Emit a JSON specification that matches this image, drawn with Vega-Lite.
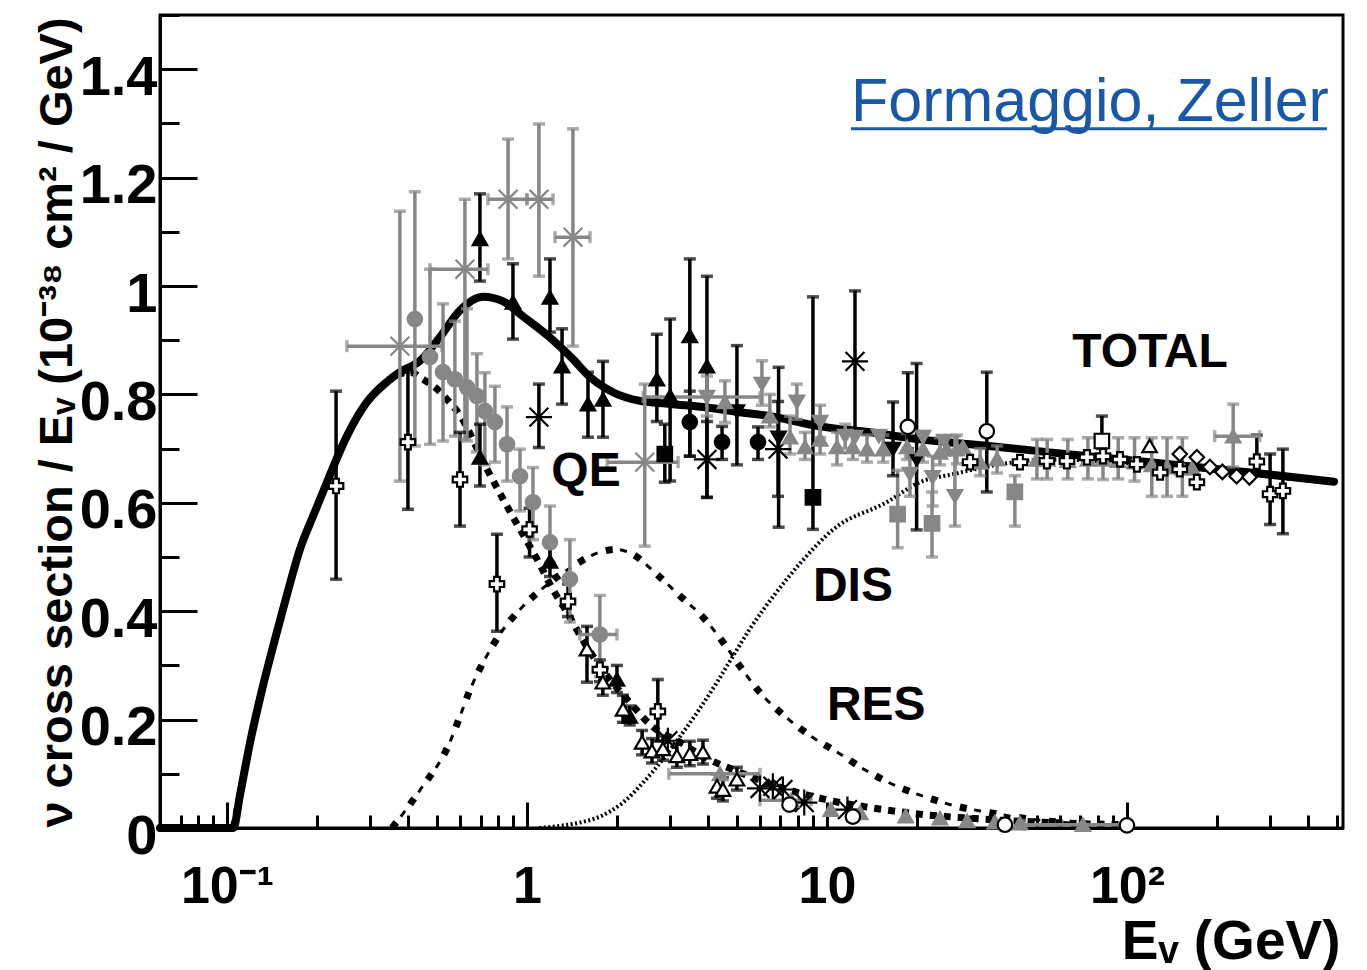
{
  "$schema": "https://vega.github.io/schema/vega-lite/v6.json",
  "width": 1183,
  "height": 813,
  "autosize": {"type": "none"},
  "padding": {"left": 160, "top": 15, "right": 24, "bottom": 142},
  "background": "white",
  "config": {
    "font": "Liberation Sans",
    "view": {"stroke": "black", "strokeWidth": 3},
    "axis": {"grid": false}
  },
  "datasets": {
    "curves": [
      {"c": "TOTAL", "E": 0.0598, "v": 0},
      {"c": "TOTAL", "E": 0.105, "v": 0},
      {"c": "TOTAL", "E": 0.1105, "v": 0.061},
      {"c": "TOTAL", "E": 0.119, "v": 0.154},
      {"c": "TOTAL", "E": 0.131, "v": 0.256},
      {"c": "TOTAL", "E": 0.1445, "v": 0.348},
      {"c": "TOTAL", "E": 0.158, "v": 0.428},
      {"c": "TOTAL", "E": 0.175, "v": 0.514},
      {"c": "TOTAL", "E": 0.1935, "v": 0.575},
      {"c": "TOTAL", "E": 0.2154, "v": 0.638},
      {"c": "TOTAL", "E": 0.251, "v": 0.723},
      {"c": "TOTAL", "E": 0.293, "v": 0.786},
      {"c": "TOTAL", "E": 0.341, "v": 0.823},
      {"c": "TOTAL", "E": 0.377, "v": 0.841},
      {"c": "TOTAL", "E": 0.44, "v": 0.862},
      {"c": "TOTAL", "E": 0.513, "v": 0.906},
      {"c": "TOTAL", "E": 0.598, "v": 0.955},
      {"c": "TOTAL", "E": 0.714, "v": 0.98},
      {"c": "TOTAL", "E": 0.83, "v": 0.972},
      {"c": "TOTAL", "E": 0.97, "v": 0.944},
      {"c": "TOTAL", "E": 1.193, "v": 0.905},
      {"c": "TOTAL", "E": 1.423, "v": 0.865},
      {"c": "TOTAL", "E": 1.622, "v": 0.832},
      {"c": "TOTAL", "E": 1.934, "v": 0.804},
      {"c": "TOTAL", "E": 2.38, "v": 0.788},
      {"c": "TOTAL", "E": 3.07, "v": 0.782},
      {"c": "TOTAL", "E": 3.98, "v": 0.776},
      {"c": "TOTAL", "E": 5.12, "v": 0.767},
      {"c": "TOTAL", "E": 6.45, "v": 0.76},
      {"c": "TOTAL", "E": 9.46, "v": 0.741},
      {"c": "TOTAL", "E": 13.9, "v": 0.73},
      {"c": "TOTAL", "E": 20.4, "v": 0.717},
      {"c": "TOTAL", "E": 30.0, "v": 0.708},
      {"c": "TOTAL", "E": 44.0, "v": 0.699},
      {"c": "TOTAL", "E": 55.3, "v": 0.693},
      {"c": "TOTAL", "E": 119, "v": 0.675},
      {"c": "TOTAL", "E": 257, "v": 0.656},
      {"c": "TOTAL", "E": 490, "v": 0.639},
      {"c": "QE", "E": 0.105, "v": 0},
      {"c": "QE", "E": 0.1105, "v": 0.061},
      {"c": "QE", "E": 0.119, "v": 0.154},
      {"c": "QE", "E": 0.131, "v": 0.256},
      {"c": "QE", "E": 0.1445, "v": 0.348},
      {"c": "QE", "E": 0.158, "v": 0.428},
      {"c": "QE", "E": 0.175, "v": 0.514},
      {"c": "QE", "E": 0.1935, "v": 0.575},
      {"c": "QE", "E": 0.2154, "v": 0.638},
      {"c": "QE", "E": 0.251, "v": 0.723},
      {"c": "QE", "E": 0.293, "v": 0.786},
      {"c": "QE", "E": 0.341, "v": 0.823},
      {"c": "QE", "E": 0.377, "v": 0.838},
      {"c": "QE", "E": 0.407, "v": 0.841},
      {"c": "QE", "E": 0.45, "v": 0.828},
      {"c": "QE", "E": 0.501, "v": 0.81},
      {"c": "QE", "E": 0.545, "v": 0.789},
      {"c": "QE", "E": 0.589, "v": 0.767},
      {"c": "QE", "E": 0.736, "v": 0.662},
      {"c": "QE", "E": 0.832, "v": 0.607},
      {"c": "QE", "E": 0.948, "v": 0.551},
      {"c": "QE", "E": 1.08, "v": 0.496},
      {"c": "QE", "E": 1.22, "v": 0.44},
      {"c": "QE", "E": 1.36, "v": 0.398},
      {"c": "QE", "E": 1.58, "v": 0.335},
      {"c": "QE", "E": 1.89, "v": 0.274},
      {"c": "QE", "E": 2.2, "v": 0.232},
      {"c": "QE", "E": 2.62, "v": 0.187},
      {"c": "QE", "E": 3.24, "v": 0.158},
      {"c": "QE", "E": 3.86, "v": 0.132},
      {"c": "QE", "E": 5.0, "v": 0.105},
      {"c": "QE", "E": 7.0, "v": 0.075},
      {"c": "QE", "E": 10.0, "v": 0.052},
      {"c": "QE", "E": 15.0, "v": 0.035},
      {"c": "QE", "E": 20.0, "v": 0.026},
      {"c": "QE", "E": 30.0, "v": 0.018},
      {"c": "QE", "E": 50.0, "v": 0.011},
      {"c": "QE", "E": 100.0, "v": 0.006},
      {"c": "RES", "E": 0.355, "v": 0},
      {"c": "RES", "E": 0.44, "v": 0.07},
      {"c": "RES", "E": 0.553, "v": 0.158},
      {"c": "RES", "E": 0.598, "v": 0.206},
      {"c": "RES", "E": 0.646, "v": 0.255},
      {"c": "RES", "E": 0.714, "v": 0.305},
      {"c": "RES", "E": 0.813, "v": 0.358},
      {"c": "RES", "E": 0.97, "v": 0.409},
      {"c": "RES", "E": 1.193, "v": 0.453},
      {"c": "RES", "E": 1.423, "v": 0.483},
      {"c": "RES", "E": 1.75, "v": 0.509},
      {"c": "RES", "E": 1.995, "v": 0.514},
      {"c": "RES", "E": 2.25, "v": 0.505},
      {"c": "RES", "E": 2.71, "v": 0.468},
      {"c": "RES", "E": 3.24, "v": 0.428},
      {"c": "RES", "E": 3.86, "v": 0.389},
      {"c": "RES", "E": 4.5, "v": 0.343},
      {"c": "RES", "E": 5.21, "v": 0.293},
      {"c": "RES", "E": 5.98, "v": 0.25},
      {"c": "RES", "E": 7.24, "v": 0.206},
      {"c": "RES", "E": 8.98, "v": 0.167},
      {"c": "RES", "E": 11.1, "v": 0.136},
      {"c": "RES", "E": 13.5, "v": 0.106},
      {"c": "RES", "E": 17.1, "v": 0.077},
      {"c": "RES", "E": 21.9, "v": 0.055},
      {"c": "RES", "E": 27.1, "v": 0.04},
      {"c": "RES", "E": 34.4, "v": 0.029},
      {"c": "RES", "E": 44.0, "v": 0.019},
      {"c": "RES", "E": 56.2, "v": 0.012},
      {"c": "RES", "E": 81.0, "v": 0.006},
      {"c": "DIS", "E": 1.1, "v": 0},
      {"c": "DIS", "E": 1.29, "v": 0.004},
      {"c": "DIS", "E": 1.5, "v": 0.01},
      {"c": "DIS", "E": 1.75, "v": 0.021},
      {"c": "DIS", "E": 2.09, "v": 0.047},
      {"c": "DIS", "E": 2.44, "v": 0.084},
      {"c": "DIS", "E": 2.84, "v": 0.127},
      {"c": "DIS", "E": 3.24, "v": 0.169},
      {"c": "DIS", "E": 3.69, "v": 0.213},
      {"c": "DIS", "E": 4.3, "v": 0.269},
      {"c": "DIS", "E": 4.86, "v": 0.317},
      {"c": "DIS", "E": 5.53, "v": 0.367},
      {"c": "DIS", "E": 6.7, "v": 0.431},
      {"c": "DIS", "E": 8.1, "v": 0.487},
      {"c": "DIS", "E": 10.5, "v": 0.551},
      {"c": "DIS", "E": 15.8, "v": 0.601},
      {"c": "DIS", "E": 20.4, "v": 0.638},
      {"c": "DIS", "E": 26.4, "v": 0.653},
      {"c": "DIS", "E": 37.8, "v": 0.671},
      {"c": "DIS", "E": 55.3, "v": 0.68},
      {"c": "DIS", "E": 119, "v": 0.67},
      {"c": "DIS", "E": 257, "v": 0.652},
      {"c": "DIS", "E": 490, "v": 0.636}
    ],
    "pts": [
      {"s": "oc", "E": 0.231, "v": 0.631, "lo": 0.459, "hi": 0.806},
      {"s": "oc", "E": 0.401, "v": 0.712, "lo": 0.588, "hi": 0.841},
      {"s": "oc", "E": 0.598, "v": 0.643, "lo": 0.557, "hi": 0.73},
      {"s": "oc", "E": 0.794, "v": 0.45, "lo": 0.363, "hi": 0.542},
      {"s": "oc", "E": 1.02, "v": 0.551, "lo": 0.5, "hi": 0.59},
      {"s": "oc", "E": 1.37, "v": 0.418, "lo": 0.39, "hi": 0.45},
      {"s": "oc", "E": 1.75, "v": 0.292, "lo": 0.27, "hi": 0.31},
      {"s": "oc", "E": 2.73, "v": 0.215, "lo": 0.16, "hi": 0.274},
      {"s": "gc", "E": 0.423, "v": 0.939, "lo": 0.705, "hi": 1.174},
      {"s": "gc", "E": 0.475, "v": 0.869, "lo": 0.708, "hi": 1.031},
      {"s": "gc", "E": 0.525, "v": 0.841, "lo": 0.714, "hi": 0.967},
      {"s": "gc", "E": 0.575, "v": 0.828, "lo": 0.723, "hi": 0.935},
      {"s": "gc", "E": 0.631, "v": 0.813, "lo": 0.714, "hi": 0.958},
      {"s": "gc", "E": 0.681, "v": 0.797, "lo": 0.694, "hi": 0.875},
      {"s": "gc", "E": 0.724, "v": 0.769, "lo": 0.67, "hi": 0.84},
      {"s": "gc", "E": 0.782, "v": 0.749, "lo": 0.675, "hi": 0.815},
      {"s": "gc", "E": 0.858, "v": 0.708, "lo": 0.64, "hi": 0.777},
      {"s": "gc", "E": 0.948, "v": 0.649, "lo": 0.585, "hi": 0.699},
      {"s": "gc", "E": 1.047, "v": 0.601, "lo": 0.532, "hi": 0.665},
      {"s": "gc", "E": 1.193, "v": 0.527, "lo": 0.49, "hi": 0.594},
      {"s": "gc", "E": 1.39, "v": 0.459, "lo": 0.38, "hi": 0.532},
      {"s": "gc", "E": 1.75, "v": 0.357, "lo": 0.279, "hi": 0.429, "El": 1.5, "Eh": 1.995},
      {"s": "ga", "E": 0.377, "v": 0.889, "lo": 0.64, "hi": 1.138, "El": 0.251, "Eh": 0.521},
      {"s": "ga", "E": 0.621, "v": 1.031, "lo": 0.717, "hi": 1.16, "El": 0.475, "Eh": 0.741},
      {"s": "ga", "E": 0.865, "v": 1.16, "lo": 1.05, "hi": 1.271, "El": 0.741, "Eh": 1.0},
      {"s": "ga", "E": 1.096, "v": 1.16, "lo": 1.018, "hi": 1.299, "El": 1.0, "Eh": 1.221},
      {"s": "ga", "E": 1.423, "v": 1.09, "lo": 0.889, "hi": 1.29, "El": 1.24, "Eh": 1.622},
      {"s": "ga", "E": 2.47, "v": 0.675, "lo": 0.52, "hi": 0.819, "El": 1.85, "Eh": 3.19},
      {"s": "bt", "E": 0.697, "v": 1.087, "lo": 1.009, "hi": 1.17},
      {"s": "bt", "E": 0.898, "v": 0.97, "lo": 0.902, "hi": 1.041},
      {"s": "bt", "E": 1.193, "v": 0.979, "lo": 0.915, "hi": 1.05},
      {"s": "bt", "E": 1.309, "v": 0.852, "lo": 0.782, "hi": 0.921},
      {"s": "bt", "E": 1.597, "v": 0.782, "lo": 0.721, "hi": 0.841},
      {"s": "bt", "E": 1.792, "v": 0.791, "lo": 0.721, "hi": 0.861},
      {"s": "bt", "E": 0.697, "v": 0.684, "lo": 0.631, "hi": 0.745},
      {"s": "bt", "E": 1.193, "v": 0.492, "lo": 0.464, "hi": 0.52},
      {"s": "bt", "E": 1.995, "v": 0.274, "lo": 0.25, "hi": 0.3},
      {"s": "bt", "E": 2.2, "v": 0.206, "lo": 0.19, "hi": 0.225},
      {"s": "bt", "E": 2.71, "v": 0.828, "lo": 0.75, "hi": 0.911},
      {"s": "bt", "E": 3.0, "v": 0.797, "lo": 0.64, "hi": 0.939},
      {"s": "bt", "E": 3.49, "v": 0.908, "lo": 0.686, "hi": 1.05},
      {"s": "bt", "E": 3.98, "v": 0.852, "lo": 0.61, "hi": 1.018},
      {"s": "ba", "E": 1.096, "v": 0.758, "lo": 0.702, "hi": 0.819},
      {"s": "ba", "E": 3.98, "v": 0.68, "lo": 0.61, "hi": 0.75},
      {"s": "ba", "E": 6.87, "v": 0.699, "lo": 0.612, "hi": 0.787},
      {"s": "ba", "E": 12.4, "v": 0.861, "lo": 0.736, "hi": 0.991},
      {"s": "ba", "E": 2.95, "v": 0.161},
      {"s": "ba", "E": 5.98, "v": 0.073},
      {"s": "ba", "E": 6.6, "v": 0.077},
      {"s": "ba", "E": 7.13, "v": 0.071},
      {"s": "ba", "E": 8.4, "v": 0.047},
      {"s": "ba", "E": 11.7, "v": 0.034},
      {"s": "bc", "E": 3.49, "v": 0.749, "lo": 0.686, "hi": 0.806},
      {"s": "bc", "E": 4.47, "v": 0.712, "lo": 0.68, "hi": 0.741},
      {"s": "bc", "E": 5.89, "v": 0.712, "lo": 0.68, "hi": 0.74},
      {"s": "bs", "E": 2.88, "v": 0.69, "lo": 0.638, "hi": 0.745},
      {"s": "bs", "E": 8.98, "v": 0.61, "lo": 0.551, "hi": 0.98},
      {"s": "bd", "E": 16.6, "v": 0.699, "lo": 0.65, "hi": 0.786},
      {"s": "bd", "E": 19.9, "v": 0.68, "lo": 0.55, "hi": 0.857},
      {"s": "bd", "E": 5.01, "v": 0.768, "lo": 0.67, "hi": 0.89},
      {"s": "bd", "E": 6.9, "v": 0.72, "lo": 0.555, "hi": 0.85},
      {"s": "gt", "E": 4.57, "v": 0.786, "lo": 0.748, "hi": 0.825},
      {"s": "gt", "E": 6.45, "v": 0.76, "lo": 0.74, "hi": 0.8},
      {"s": "gt", "E": 7.53, "v": 0.721, "lo": 0.69, "hi": 0.76},
      {"s": "gt", "E": 8.45, "v": 0.703, "lo": 0.68, "hi": 0.73},
      {"s": "gt", "E": 9.49, "v": 0.717, "lo": 0.69, "hi": 0.75},
      {"s": "gt", "E": 10.8, "v": 0.703, "lo": 0.67, "hi": 0.73},
      {"s": "gt", "E": 12.2, "v": 0.703, "lo": 0.68, "hi": 0.73},
      {"s": "gt", "E": 13.6, "v": 0.699, "lo": 0.675, "hi": 0.725},
      {"s": "gt", "E": 15.4, "v": 0.699, "lo": 0.675, "hi": 0.725},
      {"s": "gt", "E": 18.5, "v": 0.703, "lo": 0.68, "hi": 0.728},
      {"s": "gt", "E": 20.9, "v": 0.699, "lo": 0.675, "hi": 0.725},
      {"s": "gt", "E": 23.8, "v": 0.693, "lo": 0.67, "hi": 0.72},
      {"s": "gt", "E": 25.1, "v": 0.699},
      {"s": "gt", "E": 27.1, "v": 0.699, "lo": 0.672, "hi": 0.725},
      {"s": "gt", "E": 28.4, "v": 0.703},
      {"s": "gt", "E": 32.4, "v": 0.675, "lo": 0.65, "hi": 0.7},
      {"s": "gt", "E": 36.9, "v": 0.681, "lo": 0.655, "hi": 0.705},
      {"s": "gt", "E": 50.1, "v": 0.68, "lo": 0.644, "hi": 0.717},
      {"s": "gt", "E": 54.2, "v": 0.68, "lo": 0.644, "hi": 0.717},
      {"s": "gt", "E": 63.5, "v": 0.678, "lo": 0.644, "hi": 0.717},
      {"s": "gt", "E": 74.1, "v": 0.68, "lo": 0.644, "hi": 0.72},
      {"s": "gt", "E": 83.2, "v": 0.68, "lo": 0.643, "hi": 0.72},
      {"s": "gt", "E": 93.5, "v": 0.678, "lo": 0.644, "hi": 0.72},
      {"s": "gt", "E": 106, "v": 0.675, "lo": 0.64, "hi": 0.72},
      {"s": "gt", "E": 121, "v": 0.67, "lo": 0.612, "hi": 0.72},
      {"s": "gt", "E": 136, "v": 0.666, "lo": 0.612, "hi": 0.72},
      {"s": "gt", "E": 153, "v": 0.664, "lo": 0.612, "hi": 0.72},
      {"s": "gt", "E": 165, "v": 0.664},
      {"s": "gt", "E": 226, "v": 0.723, "lo": 0.666, "hi": 0.782, "El": 196, "Eh": 277},
      {"s": "gt", "E": 4.4, "v": 0.1, "El": 2.97, "Eh": 5.98},
      {"s": "gt", "E": 7.6, "v": 0.051, "El": 5.98, "Eh": 8.85},
      {"s": "gt", "E": 10.3, "v": 0.034},
      {"s": "gt", "E": 12.9, "v": 0.028},
      {"s": "gt", "E": 18.3, "v": 0.022},
      {"s": "gt", "E": 23.8, "v": 0.018},
      {"s": "gt", "E": 29.3, "v": 0.013},
      {"s": "gt", "E": 36.3, "v": 0.011},
      {"s": "gt", "E": 44.0, "v": 0.009},
      {"s": "gt", "E": 71.3, "v": 0.006, "El": 45.6, "Eh": 98.5},
      {"s": "gd", "E": 3.98, "v": 0.795, "lo": 0.76, "hi": 0.834, "El": 2.44, "Eh": 5.98},
      {"s": "gd", "E": 6.07, "v": 0.819, "lo": 0.78, "hi": 0.862},
      {"s": "gd", "E": 7.94, "v": 0.786, "lo": 0.754, "hi": 0.819},
      {"s": "gd", "E": 9.49, "v": 0.749, "lo": 0.72, "hi": 0.78},
      {"s": "gd", "E": 11.5, "v": 0.723, "lo": 0.7, "hi": 0.745},
      {"s": "gd", "E": 12.4, "v": 0.721},
      {"s": "gd", "E": 14.9, "v": 0.723},
      {"s": "gd", "E": 18.9, "v": 0.653, "lo": 0.612, "hi": 0.686},
      {"s": "gd", "E": 20.9, "v": 0.721},
      {"s": "gd", "E": 22.5, "v": 0.647, "lo": 0.594, "hi": 0.686},
      {"s": "gd", "E": 24.6, "v": 0.714},
      {"s": "gd", "E": 26.7, "v": 0.612, "lo": 0.557, "hi": 0.723},
      {"s": "ot", "E": 1.585, "v": 0.33, "lo": 0.269, "hi": 0.372},
      {"s": "ot", "E": 1.79, "v": 0.269, "lo": 0.245, "hi": 0.295},
      {"s": "ot", "E": 2.09, "v": 0.219, "lo": 0.195, "hi": 0.245},
      {"s": "ot", "E": 2.42, "v": 0.158, "lo": 0.135, "hi": 0.18},
      {"s": "ot", "E": 2.61, "v": 0.142, "lo": 0.12, "hi": 0.165},
      {"s": "ot", "E": 2.84, "v": 0.146, "lo": 0.125, "hi": 0.17},
      {"s": "ot", "E": 3.16, "v": 0.133, "lo": 0.112, "hi": 0.155},
      {"s": "ot", "E": 3.49, "v": 0.137, "lo": 0.115, "hi": 0.16},
      {"s": "ot", "E": 3.86, "v": 0.14, "lo": 0.118, "hi": 0.162},
      {"s": "ot", "E": 4.3, "v": 0.077, "lo": 0.055, "hi": 0.1},
      {"s": "ot", "E": 4.5, "v": 0.071, "lo": 0.05, "hi": 0.093},
      {"s": "ot", "E": 5.01, "v": 0.09, "lo": 0.07, "hi": 0.112},
      {"s": "ot", "E": 119, "v": 0.705},
      {"s": "od", "E": 150, "v": 0.69},
      {"s": "od", "E": 171, "v": 0.684},
      {"s": "od", "E": 189, "v": 0.666},
      {"s": "od", "E": 208, "v": 0.657},
      {"s": "od", "E": 232, "v": 0.649},
      {"s": "od", "E": 256, "v": 0.647},
      {"s": "oo", "E": 18.6, "v": 0.74, "lo": 0.7, "hi": 0.84},
      {"s": "oo", "E": 34.1, "v": 0.732, "lo": 0.62, "hi": 0.841},
      {"s": "oo", "E": 7.5, "v": 0.043},
      {"s": "oo", "E": 12.2, "v": 0.021},
      {"s": "oo", "E": 39.2, "v": 0.006},
      {"s": "oo", "E": 100, "v": 0.005},
      {"s": "gs", "E": 17.2, "v": 0.579, "lo": 0.517, "hi": 0.66},
      {"s": "gs", "E": 22.4, "v": 0.562, "lo": 0.5, "hi": 0.62},
      {"s": "gs", "E": 42.3, "v": 0.62, "lo": 0.557, "hi": 0.65},
      {"s": "os", "E": 82.5, "v": 0.714, "lo": 0.7, "hi": 0.76},
      {"s": "oc", "E": 30.0, "v": 0.675},
      {"s": "oc", "E": 44.0, "v": 0.675},
      {"s": "oc", "E": 54.1, "v": 0.677},
      {"s": "oc", "E": 63.1, "v": 0.677},
      {"s": "oc", "E": 73.6, "v": 0.684},
      {"s": "oc", "E": 83.2, "v": 0.686},
      {"s": "oc", "E": 94.8, "v": 0.68},
      {"s": "oc", "E": 108, "v": 0.671},
      {"s": "oc", "E": 129, "v": 0.656},
      {"s": "oc", "E": 150, "v": 0.662},
      {"s": "oc", "E": 171, "v": 0.638},
      {"s": "oc", "E": 271, "v": 0.676, "lo": 0.655, "hi": 0.725},
      {"s": "oc", "E": 300, "v": 0.616, "lo": 0.56, "hi": 0.69},
      {"s": "oc", "E": 331, "v": 0.622, "lo": 0.543, "hi": 0.699}
    ],
    "labels": [
      {"t": "TOTAL", "E": 119.3, "v": 0.876},
      {"t": "QE", "E": 1.573, "v": 0.657},
      {"t": "DIS", "E": 12.2, "v": 0.444},
      {"t": "RES", "E": 14.6, "v": 0.226}
    ],
    "annot": [
      {"t": "Formaggio, Zeller", "E": 12.02, "E2": 464, "v": 1.3047, "vu": 1.29}
    ]
  },
  "layer": [
    {
      "data": {"name": "curves"},
      "transform": [{"filter": "datum.c == 'TOTAL'"}],
      "mark": {"type": "line", "color": "black", "strokeWidth": 8, "strokeJoin": "round", "strokeCap": "round", "interpolate": "monotone"},
      "encoding": {
        "x": {
          "field": "E", "type": "quantitative",
          "scale": {"type": "log", "domain": [0.0598, 525], "nice": false},
          "axis": {
            "values": [0.06,0.07,0.08,0.09,0.1,0.2,0.3,0.4,0.5,0.6,0.7,0.8,0.9,1,2,3,4,5,6,7,8,9,10,20,30,40,50,60,70,80,90,100,200,300,400,500],
            "tickSize": {"condition": {"test": "datum.value==0.1||datum.value==1||datum.value==10||datum.value==100", "value": -26}, "value": -13},
            "tickWidth": 3, "tickColor": "black",
            "labelExpr": "datum.value==0.1?'10⁻¹':datum.value==1?'1':datum.value==10?'10':datum.value==100?'10²':''",
            "labelPadding": 100, "labelBaseline": "alphabetic", "labelAlign": "center",
            "labelFontSize": 52, "labelFontWeight": "bold", "labelColor": "black", "labelFont": "Liberation Sans",
            "labelOverlap": false, "labelFlush": false, "labelBound": false,
            "domainColor": "black", "domainWidth": 3, "grid": false,
            "title": "Eᵥ (GeV)", "titleFontSize": 55, "titleFontWeight": "bold", "titleColor": "black", "titleFont": "Liberation Sans",
            "titleX": 1180, "titleY": 130, "titleAlign": "right", "titleBaseline": "alphabetic", "titleAnchor": null
          }
        },
        "y": {
          "field": "v", "type": "quantitative",
          "scale": {"domain": [0, 1.5], "nice": false, "zero": false},
          "axis": {
            "values": [0,0.05,0.1,0.15,0.2,0.25,0.3,0.35,0.4,0.45,0.5,0.55,0.6,0.65,0.7,0.75,0.8,0.85,0.9,0.95,1,1.05,1.1,1.15,1.2,1.25,1.3,1.35,1.4,1.45,1.5],
            "tickSize": {"condition": {"test": "abs(datum.value*5 - round(datum.value*5)) < 0.001", "value": -37}, "value": -19},
            "tickWidth": 3, "tickColor": "black",
            "labelExpr": "abs(datum.value*5 - round(datum.value*5)) < 0.001 ? format(datum.value, '.1~f') : ''",
            "labelPadding": 40, "labelOffset": 25, "labelBaseline": "alphabetic", "labelAlign": "right",
            "labelFontSize": 56, "labelFontWeight": "bold", "labelColor": "black", "labelFont": "Liberation Sans",
            "labelOverlap": false, "labelFlush": false, "labelBound": false,
            "domainColor": "black", "domainWidth": 3, "grid": false,
            "title": "ν cross section / Eᵥ (10⁻³⁸ cm² / GeV)", "titleFontSize": 47, "titleFontWeight": "bold", "titleColor": "black", "titleFont": "Liberation Sans",
            "titleX": -89, "titleY": 407, "titleAngle": -90, "titleAlign": "center", "titleBaseline": "alphabetic", "titleAnchor": null
          }
        }
      }
    },
    {
      "data": {"name": "curves"},
      "transform": [{"filter": "datum.c == 'QE'"}],
      "mark": {"type": "line", "color": "black", "strokeWidth": 7, "strokeDash": [7, 7], "strokeCap": "butt", "interpolate": "monotone"},
      "encoding": {
        "x": {"field": "E", "type": "quantitative", "scale": {"type": "log", "domain": [0.0598, 525], "nice": false}},
        "y": {"field": "v", "type": "quantitative", "scale": {"domain": [0, 1.5], "nice": false, "zero": false}}
      }
    },
    {
      "data": {"name": "curves"},
      "transform": [{"filter": "datum.c == 'RES'"}],
      "mark": {"type": "line", "color": "black", "strokeWidth": 7, "strokeDash": [7, 23], "strokeCap": "butt", "interpolate": "monotone"},
      "encoding": {
        "x": {"field": "E", "type": "quantitative", "scale": {"type": "log", "domain": [0.0598, 525], "nice": false}},
        "y": {"field": "v", "type": "quantitative", "scale": {"domain": [0, 1.5], "nice": false, "zero": false}}
      }
    },
    {
      "data": {"name": "curves"},
      "transform": [{"filter": "datum.c == 'RES'"}],
      "mark": {"type": "line", "color": "black", "strokeWidth": 3, "strokeDash": [7, 23], "strokeDashOffset": 15.5, "strokeCap": "butt", "interpolate": "monotone"},
      "encoding": {
        "x": {"field": "E", "type": "quantitative", "scale": {"type": "log", "domain": [0.0598, 525], "nice": false}},
        "y": {"field": "v", "type": "quantitative", "scale": {"domain": [0, 1.5], "nice": false, "zero": false}}
      }
    },
    {
      "data": {"name": "curves"},
      "transform": [{"filter": "datum.c == 'DIS'"}],
      "mark": {"type": "line", "color": "black", "strokeWidth": 4, "strokeDash": [2, 2.5], "strokeCap": "butt", "interpolate": "monotone"},
      "encoding": {
        "x": {"field": "E", "type": "quantitative", "scale": {"type": "log", "domain": [0.0598, 525], "nice": false}},
        "y": {"field": "v", "type": "quantitative", "scale": {"domain": [0, 1.5], "nice": false, "zero": false}}
      }
    },
    {
      "data": {"name": "pts"},
      "transform": [{"filter": "isValid(datum.lo)"}],
      "mark": {"type": "rule", "strokeWidth": 3.5},
      "encoding": {
        "x": {"field": "E", "type": "quantitative", "scale": {"type": "log", "domain": [0.0598, 525], "nice": false}},
        "y": {"field": "lo", "type": "quantitative", "scale": {"domain": [0, 1.5], "nice": false, "zero": false}},
        "y2": {"field": "hi"},
        "color": {"field": "s", "type": "nominal", "legend": null,
          "scale": {"domain": ["oc","gc","ga","bt","ba","bc","bs","bd","gt","gd","ot","od","oo","gs","os"],
                    "range": ["#000000","#878787","#878787","#000000","#000000","#000000","#000000","#000000","#878787","#878787","#000000","#000000","#000000","#878787","#000000"]}}
      }
    },
    {
      "data": {"name": "pts"},
      "transform": [{"filter": "isValid(datum.lo)"}],
      "mark": {"type": "tick", "orient": "horizontal", "size": 12, "thickness": 3.5},
      "encoding": {
        "x": {"field": "E", "type": "quantitative", "scale": {"type": "log", "domain": [0.0598, 525], "nice": false}},
        "y": {"field": "lo", "type": "quantitative", "scale": {"domain": [0, 1.5], "nice": false, "zero": false}},
        "color": {"field": "s", "type": "nominal", "legend": null}
      }
    },
    {
      "data": {"name": "pts"},
      "transform": [{"filter": "isValid(datum.hi)"}],
      "mark": {"type": "tick", "orient": "horizontal", "size": 12, "thickness": 3.5},
      "encoding": {
        "x": {"field": "E", "type": "quantitative", "scale": {"type": "log", "domain": [0.0598, 525], "nice": false}},
        "y": {"field": "hi", "type": "quantitative", "scale": {"domain": [0, 1.5], "nice": false, "zero": false}},
        "color": {"field": "s", "type": "nominal", "legend": null}
      }
    },
    {
      "data": {"name": "pts"},
      "transform": [{"filter": "isValid(datum.El)"}],
      "mark": {"type": "rule", "strokeWidth": 3.5},
      "encoding": {
        "x": {"field": "El", "type": "quantitative", "scale": {"type": "log", "domain": [0.0598, 525], "nice": false}},
        "x2": {"field": "Eh"},
        "y": {"field": "v", "type": "quantitative", "scale": {"domain": [0, 1.5], "nice": false, "zero": false}},
        "color": {"field": "s", "type": "nominal", "legend": null}
      }
    },
    {
      "data": {"name": "pts"},
      "transform": [{"filter": "isValid(datum.El)"}],
      "mark": {"type": "tick", "orient": "vertical", "size": 12, "thickness": 3.5},
      "encoding": {
        "x": {"field": "El", "type": "quantitative", "scale": {"type": "log", "domain": [0.0598, 525], "nice": false}},
        "y": {"field": "v", "type": "quantitative", "scale": {"domain": [0, 1.5], "nice": false, "zero": false}},
        "color": {"field": "s", "type": "nominal", "legend": null}
      }
    },
    {
      "data": {"name": "pts"},
      "transform": [{"filter": "isValid(datum.Eh)"}],
      "mark": {"type": "tick", "orient": "vertical", "size": 12, "thickness": 3.5},
      "encoding": {
        "x": {"field": "Eh", "type": "quantitative", "scale": {"type": "log", "domain": [0.0598, 525], "nice": false}},
        "y": {"field": "v", "type": "quantitative", "scale": {"domain": [0, 1.5], "nice": false, "zero": false}},
        "color": {"field": "s", "type": "nominal", "legend": null}
      }
    },
    {
      "data": {"name": "pts"},
      "mark": {"type": "point", "filled": true, "size": 210, "strokeWidth": 2.2, "opacity": 1},
      "encoding": {
        "x": {"field": "E", "type": "quantitative", "scale": {"type": "log", "domain": [0.0598, 525], "nice": false}},
        "y": {"field": "v", "type": "quantitative", "scale": {"domain": [0, 1.5], "nice": false, "zero": false}},
        "shape": {"field": "s", "type": "nominal", "legend": null,
          "scale": {"domain": ["oc","gc","ga","bt","ba","bc","bs","bd","gt","gd","ot","od","oo","gs","os"],
                    "range": ["cross","circle","M-1.8,0L1.8,0M0,-1.8L0,1.8M-1.3,-1.3L1.3,1.3M-1.3,1.3L1.3,-1.3","triangle-up","M-1.8,0L1.8,0M0,-1.8L0,1.8M-1.3,-1.3L1.3,1.3M-1.3,1.3L1.3,-1.3","circle","square","triangle-down","triangle-up","triangle-down","triangle-up","diamond","circle","square","square"]}},
        "fill": {"field": "s", "type": "nominal", "legend": null,
          "scale": {"domain": ["oc","gc","ga","bt","ba","bc","bs","bd","gt","gd","ot","od","oo","gs","os"],
                    "range": ["#ffffff","#878787","#878787","#000000","#000000","#000000","#000000","#000000","#878787","#878787","#ffffff","#ffffff","#ffffff","#878787","#ffffff"]}},
        "stroke": {"field": "s", "type": "nominal", "legend": null,
          "scale": {"domain": ["oc","gc","ga","bt","ba","bc","bs","bd","gt","gd","ot","od","oo","gs","os"],
                    "range": ["#000000","#878787","#878787","#000000","#000000","#000000","#000000","#000000","#878787","#878787","#000000","#000000","#000000","#878787","#000000"]}}
      }
    },
    {
      "data": {"name": "labels"},
      "mark": {"type": "text", "font": "Liberation Sans", "fontWeight": "bold", "fontSize": 48, "align": "center", "baseline": "middle", "color": "black"},
      "encoding": {
        "x": {"field": "E", "type": "quantitative", "scale": {"type": "log", "domain": [0.0598, 525], "nice": false}},
        "y": {"field": "v", "type": "quantitative", "scale": {"domain": [0, 1.5], "nice": false, "zero": false}},
        "text": {"field": "t"}
      }
    },
    {
      "data": {"name": "annot"},
      "mark": {"type": "text", "font": "Liberation Sans", "fontSize": 61, "align": "left", "baseline": "alphabetic", "color": "#1a58a6"},
      "encoding": {
        "x": {"field": "E", "type": "quantitative", "scale": {"type": "log", "domain": [0.0598, 525], "nice": false}},
        "y": {"field": "v", "type": "quantitative", "scale": {"domain": [0, 1.5], "nice": false, "zero": false}},
        "text": {"field": "t"}
      }
    },
    {
      "data": {"name": "annot"},
      "mark": {"type": "rule", "strokeWidth": 3, "color": "#1a58a6"},
      "encoding": {
        "x": {"field": "E", "type": "quantitative", "scale": {"type": "log", "domain": [0.0598, 525], "nice": false}},
        "x2": {"field": "E2"},
        "y": {"field": "vu", "type": "quantitative", "scale": {"domain": [0, 1.5], "nice": false, "zero": false}}
      }
    }
  ]
}
